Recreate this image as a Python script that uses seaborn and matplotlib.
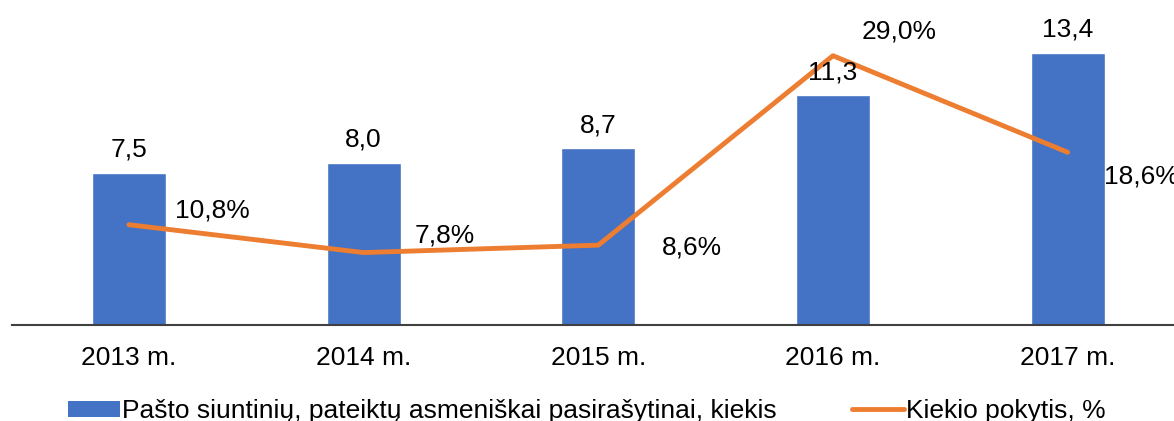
import matplotlib
matplotlib.use("Agg")
import matplotlib.pyplot as plt
import seaborn as sns
import numpy as np
import pandas as pd
from matplotlib.patches import Patch
from matplotlib.lines import Line2D

categories = ["2013 m.", "2014 m.", "2015 m.", "2016 m.", "2017 m."]
bar_values = [7.5, 8.0, 8.7, 11.3, 13.4]
change_pct = [10.8, 7.8, 8.6, 29.0, 18.6]
bar_name = "Pašto siuntinių, pateiktų asmeniškai pasirašytinai, kiekis"
line_name = "Kiekio pokytis, %"

BLUE = "#4472C4"
ORANGE = "#ED7D31"

sns.set_theme(style="white")
plt.rcParams["font.family"] = ["Liberation Sans", "DejaVu Sans"]
plt.rcParams["text.color"] = "black"
plt.rcParams["xtick.color"] = "black"

fig = plt.figure(figsize=(11.74, 4.21), dpi=100)
ax = fig.add_axes([11.6 / 1174, 96 / 421, (1185 - 11.6) / 1174, 325 / 421])

df = pd.DataFrame({"cat": categories, "val": bar_values, "pct": change_pct})
sns.barplot(data=df, x="cat", y="val", color=BLUE, width=0.315, saturation=1, ax=ax)
ax.set_ylim(0, 16)
ax.set_xlim(-0.5, len(categories) - 0.5)
ax.set_xlabel("")
ax.set_ylabel("")
ax.set_yticks([])
for s in ["top", "left", "right"]:
    ax.spines[s].set_visible(False)
ax.spines["bottom"].set_color("#404040")
ax.spines["bottom"].set_linewidth(1.5)
ax.tick_params(axis="x", length=0, pad=15, labelsize=19, labelcolor="black")

ax2 = ax.twinx()
pos = np.arange(len(categories))
sns.lineplot(x=pos, y=change_pct, color=ORANGE, linewidth=3.5, ax=ax2,
             solid_capstyle="round", solid_joinstyle="round")
ax2.set_ylim(0, 35)
ax2.set_yticks([])
ax2.set_ylabel("")
for s in ["top", "left", "right", "bottom"]:
    ax2.spines[s].set_visible(False)

# bar value labels drawn on top of the line
for i, v in enumerate(bar_values):
    ax2.annotate(f"{v:.1f}".replace(".", ","), (i, v), xycoords=ax.transData,
                 xytext=(0, 11), textcoords="offset pixels", ha="center",
                 va="bottom", fontsize=19, zorder=5)

offsets = [(46, 14), (51, 17), (64, -2), (29, 24), (36, -24)]
for i, (v, off) in enumerate(zip(change_pct, offsets)):
    ax2.annotate(f"{v:.1f}%".replace(".", ","), (i, v), xytext=off,
                 textcoords="offset pixels", ha="left", va="center", fontsize=19)

handles = [Patch(facecolor=BLUE, edgecolor="none"),
           Line2D([0], [0], color=ORANGE, linewidth=3.5, solid_capstyle="round")]
leg = fig.legend(handles, [bar_name, line_name], loc="center left",
                 bbox_to_anchor=(68 / 1174, 1 - 411 / 421), ncol=2, frameon=False,
                 fontsize=19, handlelength=1.97, handleheight=0.57, handletextpad=0.08,
                 columnspacing=2.84, borderaxespad=0, borderpad=0)

fig.savefig("out.png", dpi=100)
